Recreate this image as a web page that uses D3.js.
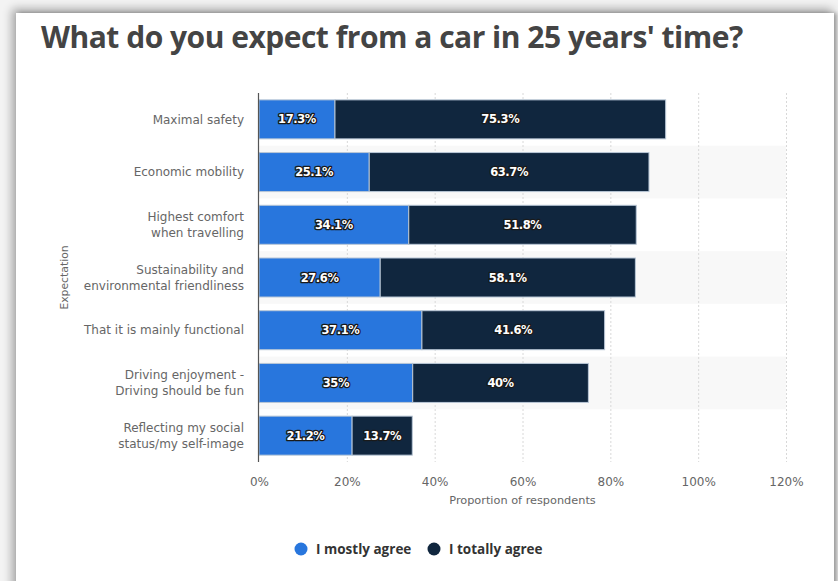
<!DOCTYPE html>
<html>
<head>
<meta charset="utf-8">
<script src="https://cdn.jsdelivr.net/npm/d3@7/dist/d3.min.js"></script>
<style>
  html, body { margin: 0; padding: 0; }
  body { width: 838px; height: 581px; background: #f3f3f3; overflow: hidden; position: relative; }
  #card {
    position: absolute; left: 16px; top: 13px; width: 818px; height: 590px;
    background: #fff;
    box-shadow: -3px -3px 9px 1px rgba(0,0,0,0.32), 3px 0 4px 0 rgba(0,0,0,0.28);
  }
  svg { position: absolute; left: 0; top: 0; }
</style>
</head>
<body>
<div id="card"></div>
<svg id="chart" width="838" height="581"></svg>
<script>
// Survey answers, share of respondents in percent
const categories = [
  ["Maximal safety"],
  ["Economic mobility"],
  ["Highest comfort", "when travelling"],
  ["Sustainability and", "environmental friendliness"],
  ["That it is mainly functional"],
  ["Driving enjoyment -", "Driving should be fun"],
  ["Reflecting my social", "status/my self-image"]
];
const mostlyAgree = [17.3, 25.1, 34.1, 27.6, 37.1, 35, 21.2];
const totallyAgree = [75.3, 63.7, 51.8, 58.1, 41.6, 40, 13.7];
const seriesNames = ["I mostly agree", "I totally agree"];
const xTicks = [0, 20, 40, 60, 80, 100, 120];

const colors = ["#2876dd", "#10263e"];
const svg = d3.select("#chart");

const plot = { left: 259, right: 786, top: 93, bottom: 462 };

const x = d3.scaleLinear().domain([0, 120]).range([plot.left, plot.right]);
const y = d3.scaleBand()
  .domain(d3.range(categories.length))
  .range([plot.top, plot.bottom])
  .paddingInner(0.26).paddingOuter(0.13);
const band = d3.scaleBand().domain(d3.range(categories.length)).range([plot.top, plot.bottom]);

// Title
svg.append("text")
  .attr("x", 41).attr("y", 48)
  .attr("font-family", "'Open Sans', sans-serif")
  .attr("font-weight", 700)
  .attr("font-size", 30)
  .attr("fill", "#444")
  .attr("letter-spacing", -0.5)
  .text("What do you expect from a car in 25 years' time?");

// Alternating row shading
svg.append("g").selectAll("rect")
  .data(d3.range(categories.length).filter(i => i % 2 === 1))
  .join("rect")
  .attr("x", plot.left).attr("width", plot.right - plot.left)
  .attr("y", i => band(i)).attr("height", band.bandwidth())
  .attr("fill", "#f8f8f8");

// Vertical grid lines
svg.append("g").selectAll("line")
  .data(xTicks.slice(1))
  .join("line")
  .attr("x1", d => x(d) + 0.5).attr("x2", d => x(d) + 0.5)
  .attr("y1", plot.top).attr("y2", plot.bottom)
  .attr("stroke", "#d8d8d8").attr("stroke-width", 1)
  .attr("stroke-dasharray", "2,2");

// Stacked bars
const stackData = categories.map((c, i) => ({ i, mostly: mostlyAgree[i], totally: totallyAgree[i] }));
const stacked = d3.stack().keys(["mostly", "totally"])(stackData);

const layers = svg.append("g").selectAll("g")
  .data(stacked).join("g")
  .attr("fill", (d, k) => colors[k]);

layers.selectAll("rect")
  .data(d => d)
  .join("rect")
  .attr("x", d => x(d[0]))
  .attr("width", d => x(d[1]) - x(d[0]))
  .attr("y", d => y(d.data.i))
  .attr("height", y.bandwidth())
  .attr("stroke", "#b9c7d6").attr("stroke-width", 1);

// Value labels inside segments
const fmt = v => (Math.round(v * 10) / 10) + "%";
layers.selectAll("text")
  .data(d => d)
  .join("text")
  .attr("x", d => (x(d[0]) + x(d[1])) / 2)
  .attr("y", d => y(d.data.i) + y.bandwidth() / 2)
  .attr("dy", "0.36em")
  .attr("text-anchor", "middle")
  .attr("font-family", "'DejaVu Sans', Verdana, sans-serif")
  .attr("font-weight", 700)
  .attr("font-size", 11.5)
  .attr("letter-spacing", -0.4)
  .attr("fill", "#fff")
  .attr("stroke", "#1a1a1a").attr("stroke-width", 2.6)
  .attr("stroke-linejoin", "round")
  .attr("paint-order", "stroke")
  .text(d => fmt(d[1] - d[0]));

// Category axis line
svg.append("line")
  .attr("x1", plot.left - 0.5).attr("x2", plot.left - 0.5)
  .attr("y1", plot.top).attr("y2", plot.bottom)
  .attr("stroke", "#555").attr("stroke-width", 1.2);

// Category labels
const catG = svg.append("g")
  .attr("font-family", "'DejaVu Sans', Verdana, sans-serif")
  .attr("font-size", 12)
  .attr("fill", "#666")
  .attr("text-anchor", "end");
categories.forEach((lines, i) => {
  const cy = y(i) + y.bandwidth() / 2;
  const lh = 16;
  const t = catG.append("text");
  lines.forEach((ln, j) => {
    t.append("tspan")
      .attr("x", 244)
      .attr("y", cy + (j - (lines.length - 1) / 2) * lh)
      .attr("dy", "0.35em")
      .text(ln);
  });
});

// X axis tick labels
const xAxis = d3.axisBottom(x).tickValues(xTicks).tickSize(0).tickFormat(d => d + "%");
const xg = svg.append("g").attr("transform", `translate(0,${plot.bottom + 12})`).call(xAxis);
xg.select(".domain").remove();
xg.selectAll("text")
  .attr("font-family", "'DejaVu Sans', Verdana, sans-serif")
  .attr("font-size", 12)
  .attr("fill", "#666");

// Axis titles
svg.append("text")
  .attr("x", x(60)).attr("y", 504)
  .attr("text-anchor", "middle")
  .attr("font-family", "'DejaVu Sans', Verdana, sans-serif")
  .attr("font-size", 11.3)
  .attr("fill", "#666")
  .text("Proportion of respondents");

svg.append("text")
  .attr("transform", `translate(68,${(plot.top + plot.bottom) / 2}) rotate(-90)`)
  .attr("text-anchor", "middle")
  .attr("font-family", "'DejaVu Sans', Verdana, sans-serif")
  .attr("font-size", 10.8)
  .attr("fill", "#666")
  .text("Expectation");

// Legend
const legend = svg.append("g").attr("transform", "translate(301,549)");
const legendX = [0, 133];
seriesNames.forEach((name, k) => {
  const g = legend.append("g").attr("transform", `translate(${legendX[k]},0)`);
  g.append("circle").attr("r", 6.5).attr("fill", colors[k]);
  g.append("text")
    .attr("x", 15).attr("dy", "0.35em")
    .attr("font-family", "'Open Sans', sans-serif")
    .attr("font-weight", 700)
    .attr("font-size", 13.5)
    .attr("fill", "#333")
    .text(name);
});
</script>
</body>
</html>
